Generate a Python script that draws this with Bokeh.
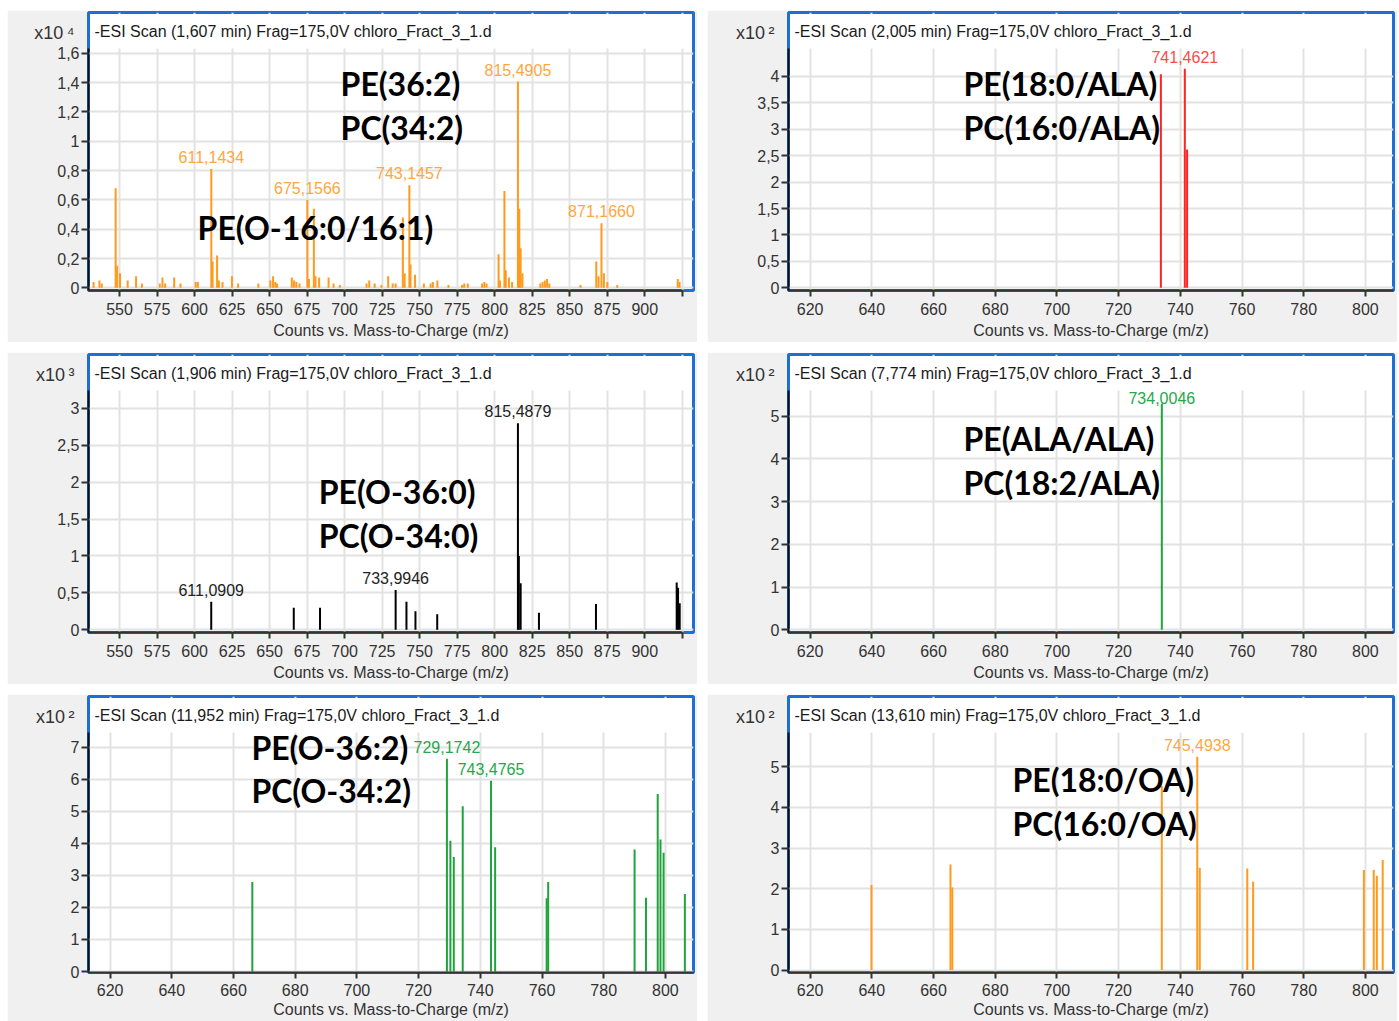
from bokeh.plotting import figure
from bokeh.models import (ColumnDataSource, Label, BoxAnnotation, FixedTicker,
                          CustomJSTickFormatter, Range1d, LinearAxis)
from bokeh.layouts import column, row
from bokeh.embed import file_html
from bokeh.resources import INLINE
from bokeh.core.properties import value

FONT = "Liberation Sans"
BOLD_FONT = "Lato"

# ---------------- data ----------------
title1 = "-ESI Scan (1,607 min) Frag=175,0V chloro_Fract_3_1.d"
title2 = "-ESI Scan (2,005 min) Frag=175,0V chloro_Fract_3_1.d"
title3 = "-ESI Scan (1,906 min) Frag=175,0V chloro_Fract_3_1.d"
title4 = "-ESI Scan (7,774 min) Frag=175,0V chloro_Fract_3_1.d"
title5 = "-ESI Scan (11,952 min) Frag=175,0V chloro_Fract_3_1.d"
title6 = "-ESI Scan (13,610 min) Frag=175,0V chloro_Fract_3_1.d"

xlabel = "Counts vs. Mass-to-Charge (m/z)"

# panel 1 (x10^4)
p1_mz = [532.7, 536.6, 538.1, 547.4, 548.4, 550.3, 555.4, 561.0, 564.9, 576.8,
         578.6, 580.4, 586.4, 590.6, 600.7, 602.2, 611.1434, 612.0, 615.0, 616.2,
         618.6, 624.9, 629.0, 642.5, 650.5, 652.3, 653.8, 655.0, 664.8, 666.3,
         667.8, 669.9, 675.1566, 676.2, 679.5, 680.6, 683.0, 689.3, 692.6, 696.8,
         714.6, 716.4, 720.0, 724.5, 729.0, 732.0, 734.0, 738.8, 740.0, 743.1457,
         743.9, 746.9, 752.8, 757.3, 758.8, 761.8, 769.2, 778.2, 779.7, 782.1,
         791.6, 793.1, 794.6, 802.6, 803.5, 806.5, 807.4, 809.5, 811.6, 815.4905,
         816.4, 817.3, 818.5, 830.4, 831.9, 833.4, 834.9, 836.4, 857.2, 867.7,
         869.2, 871.1660, 872.8, 875.1, 881.7, 922.0, 923.2]
p1_int = [0.04, 0.05, 0.03, 0.68, 0.15, 0.10, 0.05, 0.08, 0.03, 0.03,
          0.07, 0.03, 0.07, 0.03, 0.04, 0.04, 0.81, 0.18, 0.22, 0.05,
          0.04, 0.08, 0.03, 0.03, 0.05, 0.08, 0.04, 0.03, 0.07, 0.05,
          0.04, 0.03, 0.60, 0.06, 0.54, 0.08, 0.07, 0.07, 0.03, 0.02,
          0.03, 0.05, 0.03, 0.02, 0.08, 0.03, 0.03, 0.48, 0.10, 0.70,
          0.16, 0.09, 0.03, 0.03, 0.04, 0.05, 0.02, 0.02, 0.03, 0.03,
          0.03, 0.04, 0.03, 0.23, 0.05, 0.66, 0.12, 0.07, 0.04, 1.407,
          0.54, 0.27, 0.10, 0.03, 0.04, 0.05, 0.06, 0.03, 0.02, 0.18,
          0.08, 0.44, 0.10, 0.04, 0.02, 0.06, 0.04]
p1_lab_mz = [611.1434, 675.1566, 743.1457, 815.4905, 871.1660]
p1_lab_txt = ["611,1434", "675,1566", "743,1457", "815,4905", "871,1660"]
p1_names = ["PE(36:2)", "PC(34:2)", "PE(O-16:0/16:1)"]
p1_yticks = [0, 0.2, 0.4, 0.6, 0.8, 1.0, 1.2, 1.4, 1.6]

# panel 2 (x10^2)
p2_mz = [733.7, 741.4621, 742.2]
p2_int = [4.04, 4.145, 2.62]
p2_lab_mz = [741.4621]
p2_lab_txt = ["741,4621"]
p2_names = ["PE(18:0/ALA)", "PC(16:0/ALA)"]
p2_yticks = [0, 0.5, 1.0, 1.5, 2.0, 2.5, 3.0, 3.5, 4.0]

# panel 3 (x10^3)
p3_mz = [611.0909, 666.1, 683.6, 733.9946, 741.2, 747.2, 761.7, 815.4879, 816.1,
         817.3, 829.5, 867.5, 921.3, 922.2, 923.3]
p3_int = [0.38, 0.30, 0.30, 0.54, 0.38, 0.25, 0.21, 2.80, 1.00,
          0.63, 0.23, 0.35, 0.64, 0.57, 0.36]
p3_lab_mz = [611.0909, 733.9946, 815.4879]
p3_lab_txt = ["611,0909", "733,9946", "815,4879"]
p3_names = ["PE(O-36:0)", "PC(O-34:0)"]
p3_yticks = [0, 0.5, 1.0, 1.5, 2.0, 2.5, 3.0]

# panel 4 (x10^2)
p4_mz = [734.0046]
p4_int = [5.29]
p4_lab_mz = [734.0046]
p4_lab_txt = ["734,0046"]
p4_names = ["PE(ALA/ALA)", "PC(18:2/ALA)"]
p4_yticks = [0, 1, 2, 3, 4, 5]

# panel 5 (x10^2)
p5_mz = [666.1, 729.1742, 730.3, 731.4, 734.3, 743.4765, 744.8, 761.5, 762.0,
         790.0, 793.7, 797.5, 798.4, 799.4, 806.3]
p5_int = [2.79, 6.64, 4.08, 3.57, 5.16, 5.95, 3.88, 2.29, 2.79,
          3.81, 2.30, 5.54, 4.12, 3.71, 2.42]
p5_lab_mz = [729.1742, 743.4765]
p5_lab_txt = ["729,1742", "743,4765"]
p5_names = ["PE(O-36:2)", "PC(O-34:2)"]
p5_yticks = [0, 1, 2, 3, 4, 5, 6, 7]

# panel 6 (x10^2)
p6_mz = [639.9, 665.5, 666.1, 734.0, 745.4938, 746.3, 761.7, 763.6, 799.5,
         802.7, 803.7, 805.6]
p6_int = [2.09, 2.60, 2.03, 4.53, 5.25, 2.52, 2.50, 2.17, 2.46,
          2.46, 2.32, 2.71]
p6_lab_mz = [745.4938]
p6_lab_txt = ["745,4938"]
p6_names = ["PE(18:0/OA)", "PC(16:0/OA)"]
p6_yticks = [0, 1, 2, 3, 4, 5]

left_xticks = [550, 575, 600, 625, 650, 675, 700, 725, 750, 775, 800, 825, 850, 875, 900, 925]
right_xticks = [620, 640, 660, 680, 700, 720, 740, 760, 780, 800]

# ---------------- styling / layout ----------------
ORANGE = "#ff9a1c"
ORANGE_T = "#ffa640"
RED = "#ff2424"
RED_T = "#ff4a4a"
GREEN = "#1fa33c"
GREEN_T = "#25a84a"
BLACK = "#000000"
BLACK_T = "#222222"

WIDE = dict(xr=(529.3, 932.5), xticks=left_xticks, hide_above=920, xend=925)
NARROW = dict(xr=(613.0, 809.1), xticks=right_xticks, hide_above=900, xend=None)
ROW12 = dict(fh=278, bb=52, tick_out=6, lab_so=6, ax_so=4)
ROW3 = dict(fh=276, bb=49, tick_out=6, lab_so=5, ax_so=2)

panels = [
    dict(xc=WIDE, rowc=ROW12, title=title1, mz=p1_mz, inten=p1_int, lab_mz=p1_lab_mz,
         lab_txt=p1_lab_txt, names=p1_names,
         name_pos=[(697.3, 1.394), (697.3, 1.093), (602.0, 0.411)],
         yticks=p1_yticks, yr=(-0.018, 1.878), gtop=1.632, mult="x10\u2009\u2074",
         color=ORANGE, tcolor=ORANGE_T, lab_dy=-12),
    dict(xc=NARROW, rowc=ROW12, title=title2, mz=p2_mz, inten=p2_int, lab_mz=p2_lab_mz,
         lab_txt=p2_lab_txt, names=p2_names,
         name_pos=[(669.7, 3.867), (669.7, 3.034)],
         yticks=p2_yticks, yr=(-0.051, 5.211), gtop=4.53, mult="x10\u2009\u00b2",
         color=RED, tcolor=RED_T, lab_dy=-12),
    dict(xc=WIDE, rowc=ROW12, title=title3, mz=p3_mz, inten=p3_int, lab_mz=p3_lab_mz,
         lab_txt=p3_lab_txt, names=p3_names,
         name_pos=[(682.7, 1.870), (682.7, 1.274)],
         yticks=p3_yticks, yr=(-0.037, 3.731), gtop=3.243, mult="x10\u2009\u00b3",
         color=BLACK, tcolor=BLACK_T, lab_dy=-12),
    dict(xc=NARROW, rowc=ROW12, title=title4, mz=p4_mz, inten=p4_int, lab_mz=p4_lab_mz,
         lab_txt=p4_lab_txt, names=p4_names,
         name_pos=[(669.7, 4.485), (669.7, 3.456)],
         yticks=p4_yticks, yr=(-0.063, 6.441), gtop=5.60, mult="x10\u2009\u00b2",
         color=GREEN, tcolor=GREEN_T, lab_dy=-6),
    dict(xc=NARROW, rowc=ROW3, title=title5, mz=p5_mz, inten=p5_int, lab_mz=p5_lab_mz,
         lab_txt=p5_lab_txt, names=p5_names,
         name_pos=[(665.8, 6.99), (665.8, 5.65)],
         yticks=p5_yticks, yr=(-0.031, 8.583), gtop=7.46, mult="x10\u2009\u00b2",
         color=GREEN, tcolor=GREEN_T, lab_dy=-12),
    dict(xc=NARROW, rowc=ROW3, title=title6, mz=p6_mz, inten=p6_int, lab_mz=p6_lab_mz,
         lab_txt=p6_lab_txt, names=p6_names,
         name_pos=[(685.6, 4.69), (685.6, 3.61)],
         yticks=p6_yticks, yr=(-0.06, 6.73), gtop=5.84, mult="x10\u2009\u00b2",
         color=ORANGE, tcolor=ORANGE_T, lab_dy=-12),
]

FW, BL, BR = 605, 81, 4
YTICK_OUT, YLAB_SO = 7, 2
DIGIT_W, COMMA_W = 8.9, 4.45   # Liberation Sans 16px advance widths


def ytick_label(t):
    return str(round(t, 2)).rstrip("0").rstrip(".").replace(".", ",") if t != int(t) else str(int(t))


def make_panel(c):
    xc, rc = c["xc"], c["rowc"]
    xs, xe = xc["xr"]
    ys, ye = c["yr"]
    fw, fh = FW, rc["fh"]
    pxx = (xe - xs) / fw
    pxy = (ye - ys) / fh

    p = figure(frame_width=fw, frame_height=fh,
               min_border_left=BL, min_border_right=BR,
               min_border_top=2, min_border_bottom=rc["bb"],
               x_range=Range1d(xs, xe), y_range=Range1d(ys, ye),
               output_backend="svg", toolbar_location=None,
               background_fill_color="white", border_fill_color="#f0f0f0",
               outline_line_color="#1f6fd2", outline_line_width=3)

    p.xgrid.grid_line_color = "#e2e2e2"
    p.ygrid.grid_line_color = "#e2e2e2"
    p.xgrid.grid_line_width = 2
    p.ygrid.grid_line_width = 2

    xa = p.xaxis[0]
    xa.ticker = FixedTicker(ticks=xc["xticks"])
    xa.formatter = CustomJSTickFormatter(
        args=dict(lim=xc["hide_above"]),
        code="return tick > lim ? '' : tick.toFixed(0);")
    if xc["xend"] is not None:
        xa.bounds = (xs, xc["xend"])
    xa.axis_line_color = "#333333"
    xa.axis_line_width = 2
    xa.major_tick_line_color = "#333333"
    xa.major_tick_line_width = 2
    xa.major_tick_out = rc["tick_out"]
    xa.major_tick_in = 0
    xa.minor_tick_line_color = None
    xa.major_label_standoff = rc["lab_so"]
    xa.major_label_text_font = FONT
    xa.major_label_text_font_size = "16px"
    xa.major_label_text_color = "#333333"
    xa.axis_label = xlabel
    xa.axis_label_standoff = rc["ax_so"]
    xa.axis_label_text_font = FONT
    xa.axis_label_text_font_size = "16px"
    xa.axis_label_text_font_style = "normal"
    xa.axis_label_text_color = "#333333"

    ya = p.yaxis[0]
    ya.ticker = FixedTicker(ticks=c["yticks"])
    ya.formatter = CustomJSTickFormatter(
        code="return String(Math.round(tick*100)/100).replace('.', ',');")
    ya.bounds = (ys, c["gtop"])
    ya.axis_line_color = "#111111"
    ya.axis_line_width = 2
    ya.major_tick_line_color = "#333333"
    ya.major_tick_line_width = 2
    ya.major_tick_out = YTICK_OUT
    ya.major_tick_in = 0
    ya.minor_tick_line_color = None
    ya.major_label_standoff = YLAB_SO
    ya.major_label_text_font = FONT
    ya.major_label_text_font_size = "16px"
    ya.major_label_text_color = "#333333"

    # multiplier "x10^n": a label-only axis stacked outside the y axis,
    # pulled back towards the frame with a negative standoff
    widest = max(len(ytick_label(t)) for t in c["yticks"])
    has_comma = any(t != int(t) for t in c["yticks"])
    lab_w = (widest - (1 if has_comma else 0)) * DIGIT_W + (COMMA_W if has_comma else 0)
    main_w = YTICK_OUT + YLAB_SO + lab_w
    ypos = ye - 20 * pxy
    max_ax = LinearAxis(ticker=FixedTicker(ticks=[ypos]),
                        formatter=CustomJSTickFormatter(args=dict(s=c["mult"]), code="return s;"),
                        axis_line_color=None, major_tick_line_color=None,
                        minor_tick_line_color=None, major_tick_out=0, major_tick_in=0,
                        major_label_standoff=int(round(11 - main_w)),
                        major_label_text_font=FONT, major_label_text_font_size="18px",
                        major_label_text_color="#333333")
    p.add_layout(max_ax, "left")

    src = ColumnDataSource(dict(mz=c["mz"], inten=c["inten"]))
    p.segment(x0="mz", y0=0, x1="mz", y1="inten", source=src,
              line_color=c["color"], line_width=2)

    ly = []
    for m in c["lab_mz"]:
        i = min(range(len(c["mz"])), key=lambda k: abs(c["mz"][k] - m))
        ly.append(c["inten"][i])
    lsrc = ColumnDataSource(dict(mz=c["lab_mz"], y=ly, txt=c["lab_txt"]))
    p.text(x="mz", y="y", text="txt", source=lsrc,
           text_font=value(FONT), text_font_size="16px", text_color=c["tcolor"],
           text_align="center", text_baseline="alphabetic", y_offset=c["lab_dy"])

    band = BoxAnnotation(bottom=c["gtop"], top=ye - 1.5 * pxy,
                         left=xs + 1.5 * pxx, right=xe - 1.5 * pxx,
                         fill_color="white", fill_alpha=1.0, line_color=None)
    p.add_layout(band)

    p.add_layout(Label(x=xs + 6 * pxx, y=ye - 19 * pxy, text=c["title"],
                       text_font=FONT, text_font_size="16px", text_color="#1a1a1a",
                       text_baseline="middle", text_align="left"))

    for (nx, ny), name in zip(c["name_pos"], c["names"]):
        p.add_layout(Label(x=nx, y=ny, text=name, text_font=BOLD_FONT,
                           text_font_style="bold", text_font_size="32px",
                           text_color="#000000", text_baseline="middle",
                           text_align="left"))
    return p


figs = [make_panel(c) for c in panels]
layout = column(row(figs[0], figs[1], spacing=10),
                row(figs[2], figs[3], spacing=10),
                row(figs[4], figs[5], spacing=10),
                spacing=10, margin=(10, 0, 0, 7))

open("out.html", "w").write(file_html(layout, INLINE))
